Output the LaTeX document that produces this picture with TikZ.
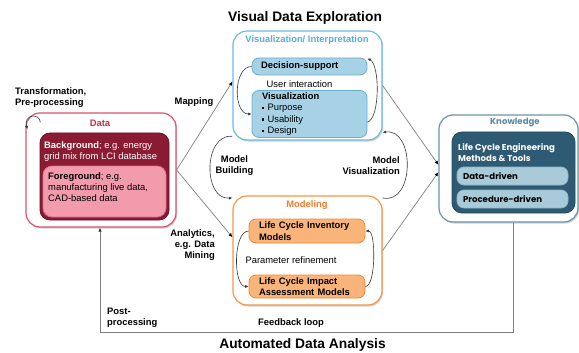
\documentclass[tikz,border=0pt]{standalone}
\usepackage{fontspec}
\setmainfont{Liberation Sans}
\newfontfamily\kfont{Poppins}
\usetikzlibrary{arrows.meta,calc,shadows}

\definecolor{datared}{HTML}{D8546C}
\definecolor{datalabel}{HTML}{C62F4B}
\definecolor{maroon}{HTML}{8A1B32}
\definecolor{maroondark}{HTML}{6B1025}
\definecolor{pinkfill}{HTML}{F19BAD}
\definecolor{pinkborder}{HTML}{D9708A}
\definecolor{vizblue}{HTML}{6DBBE0}
\definecolor{vizlabel}{HTML}{57AEDB}
\definecolor{lightblue}{HTML}{A7D2E6}
\definecolor{blueborder}{HTML}{6AAED0}
\definecolor{modorange}{HTML}{F59645}
\definecolor{modlabel}{HTML}{F27A2A}
\definecolor{lightorange}{HTML}{F9B47A}
\definecolor{orangeborder}{HTML}{EE8838}
\definecolor{knowblue}{HTML}{6A94AC}
\definecolor{knowlabel}{HTML}{5B8BA5}
\definecolor{tealfill}{HTML}{2E5B73}
\definecolor{tealdark}{HTML}{24495C}
\definecolor{paleblue}{HTML}{A9CBD9}
\definecolor{paleborder}{HTML}{8FB5C6}
\definecolor{linegray}{HTML}{808080}
\definecolor{arcgray}{HTML}{3A3A3A}

\newcommand{\bul}{\rule[0.3ex]{0.45ex}{0.45ex}\hspace{0.35em}}

\begin{document}
\begin{tikzpicture}[x=1pt,y=-1pt,
  outer/.style={draw, line width=1.2pt, fill=white, rounded corners=14pt, inner sep=0pt,
    drop shadow={shadow xshift=1.2pt, shadow yshift=-1.5pt, opacity=0.3, fill=black!60}},
  inner/.style={draw, line width=0.8pt, rounded corners=7pt, inner sep=0pt},
  txt/.style={font=\fontsize{9.4}{11.3}\selectfont, inner sep=0pt, align=left},
  lbl/.style={font=\fontsize{9.4}{11.3}\selectfont\bfseries, inner sep=0pt},
  ktxt/.style={font=\kfont\fontsize{8.6}{11}\selectfont\bfseries, inner sep=0pt, align=left},
  title/.style={font=\fontsize{13.8}{16}\selectfont\bfseries, inner sep=0pt},
  conn/.style={draw=linegray, line width=0.7pt, -{Latex[length=4pt,width=3.5pt,color=black]}},
  cyc/.style={draw=arcgray, line width=0.6pt, -{Latex[length=3.5pt,width=3pt]}},
  fbline/.style={draw=linegray, line width=1pt, -{Latex[length=4pt,width=3.5pt,color=black!80]}}
]
\useasboundingbox (0,0) rectangle (579,353);

% titles
\node[title] (toptitle) at (305,18) {Visual Data Exploration};
\node[title] (bottitle) at (302.5,345) {Automated Data Analysis};

% Data
\node[outer, draw=datared, minimum width=150pt, minimum height=114pt] (data) at (101,170) {};
\node[lbl, text=datalabel] (datalbl) at (100,123) {Data};
\node[inner, fill=maroon, draw=maroondark, minimum width=129pt, minimum height=87pt, rounded corners=10pt] (bg) at (104.5,176.5) {};
\node[txt, text=white, anchor=west] (bgtxt) at (44,151.5) {\textbf{Background}; e.g. energy\\grid mix from LCI database};
\node[inner, fill=pinkfill, draw=pinkborder, minimum width=123pt, minimum height=51pt, rounded corners=9pt] (fg) at (104.5,191.5) {};
\node[txt, anchor=west] (fgtxt) at (48,187) {\textbf{Foreground}; e.g.\\manufacturing live data,\\CAD-based data};

% Visualization / Interpretation
\node[outer, draw=vizblue, minimum width=149pt, minimum height=109pt] (viz) at (307.5,85.5) {};
\node[lbl, text=vizlabel] (vizlbl) at (307,40) {Visualization/ Interpretation};
\node[inner, txt, fill=lightblue, draw=blueborder, text width=97pt, inner xsep=9pt, minimum height=17pt] (dec) at (309.5,66.5) {\textbf{Decision-support}};
\node[txt] (ui) at (299.5,84) {User interaction};
\node[inner, txt, fill=lightblue, draw=blueborder, text width=95pt, inner xsep=10pt, minimum height=47pt] (vis) at (309.5,114)
  {\textbf{Visualization}\\\bul Purpose\\\bul Usability\\\bul Design};

% Modeling
\node[outer, draw=modorange, minimum width=149pt, minimum height=109pt] (model) at (307.5,250.5) {};
\node[lbl, text=modlabel] (modlbl) at (307,205) {Modeling};
\node[inner, txt, fill=lightorange, draw=orangeborder, text width=96pt, inner xsep=10pt, minimum height=24pt] (lci) at (307,231)
  {\textbf{Life Cycle Inventory}\\\textbf{Models}};
\node[txt] (param) at (291,260) {Parameter refinement};
\node[inner, txt, fill=lightorange, draw=orangeborder, text width=96pt, inner xsep=10pt, minimum height=23pt] (lcia) at (307,286.5)
  {\textbf{Life Cycle Impact}\\\textbf{Assessment Models}};

% Knowledge
\node[outer, draw=knowblue, minimum width=139pt, minimum height=107pt] (know) at (508.5,168.5) {};
\node[ktxt, text=knowlabel] (knowlbl) at (515,123) {Knowledge};
\node[inner, fill=tealfill, draw=tealdark, minimum width=123pt, minimum height=81pt, rounded corners=10pt] (lce) at (513.5,172.5) {};
\node[ktxt, text=white, anchor=west] (lcetxt) at (458,152.5) {Life Cycle Engineering\\Methods \& Tools};
\node[inner, ktxt, fill=paleblue, draw=paleborder, text width=99pt, inner xsep=6pt, minimum height=18pt] (dd) at (512.5,176) {Data-driven};
\node[inner, ktxt, fill=paleblue, draw=paleborder, text width=99pt, inner xsep=6pt, minimum height=18pt] (pd) at (512.5,199) {Procedure-driven};

% edge labels
\node[lbl, align=left, anchor=west] (trlbl) at (15,97.5) {Transformation,\\Pre-processing};
\node[lbl] (maplbl) at (194,102) {Mapping};
\node[lbl, align=center] (mblbl) at (234.5,165.5) {Model\\Building};
\node[lbl, align=right, anchor=east] (mvlbl) at (400,165.5) {Model\\Visualization};
\node[lbl, align=right, anchor=east] (anlbl) at (215,245) {Analytics,\\e.g. Data\\Mining};
\node[lbl, align=left, anchor=west] (pplbl) at (107,317.5) {Post-\\processing};
\node[lbl] (fblbl) at (291,323) {Feedback loop};

% connectors between the main blocks
\draw[conn] (data.east) -- (viz.177);
\draw[conn] (data.east) -- (model.170);
\draw[conn] (viz.east) -- (know.177);
\draw[conn] (model.east) -- (know.183);
\draw[cyc] (viz.214) .. controls (203,134) and (203,200) .. (model.145);
\draw[cyc] (model.35) .. controls (415,205) and (415,128) .. (viz.-32);

% transformation loop on the data block
\draw[cyc] ($(data.north west)+(15,10)$) .. controls ($(data.north west)+(14,0)$) and ($(data.north west)+(-2,2)$) .. ($(data.north west)+(2,17)$);

% loops inside the blocks
\draw[cyc] (dec.west) .. controls (233,66.5) and (233,114) .. (vis.west);
\draw[cyc] (vis.-8) .. controls (380,119) and (380,65) .. (dec.8);
\draw[cyc] (lci.west) .. controls (233,231) and (233,286.5) .. (lcia.west);
\draw[cyc] (lcia.east) .. controls (376,286.5) and (376,231) .. (lci.east);

% feedback loop
\coordinate (fbcorner) at (100,332);
\draw[fbline] ($(know.south)+(4.5,0)$) |- (fbcorner) -- (fbcorner |- data.south);
\end{tikzpicture}
\end{document}
